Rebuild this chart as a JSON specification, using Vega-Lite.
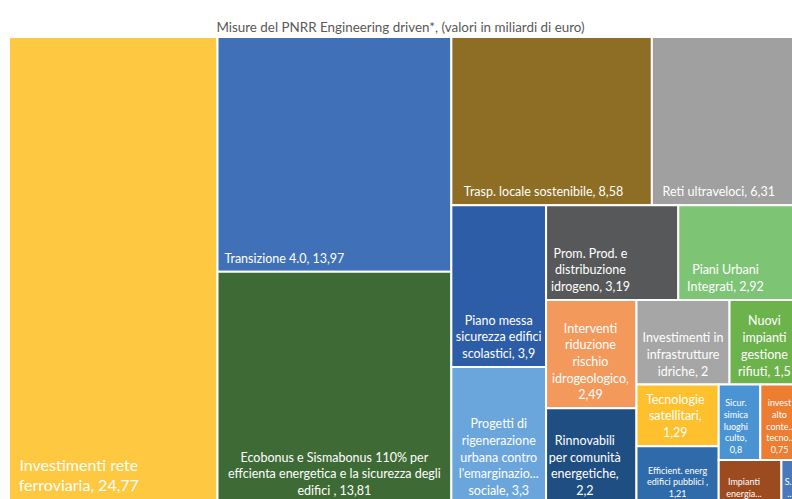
{
  "$schema": "https://vega.github.io/schema/vega-lite/v6.json",
  "width": 783,
  "height": 462,
  "autosize": "none",
  "padding": {"left": 9, "top": 37, "right": 0, "bottom": 0},
  "background": "white",
  "title": {"text": "Misure del PNRR Engineering driven*, (valori in miliardi di euro)", "font": "Lato", "fontSize": 13.4, "fontWeight": "normal", "color": "#595959", "anchor": "middle", "offset": 3},
  "config": {"view": {"stroke": null}},
  "data": {"values": [
    {"name": "Investimenti rete ferroviaria", "lines": ["Investimenti rete", "ferroviaria, 24,77"], "value": 24.77, "strip": 0},
    {"name": "Transizione 4.0", "lines": ["Transizione 4.0, 13,97"], "value": 13.97, "strip": 1},
    {"name": "Ecobonus e Sismabonus 110%", "lines": ["Ecobonus e Sismabonus 110% per", "effcienta energetica e la sicurezza degli", "edifici , 13,81"], "value": 13.81, "strip": 1},
    {"name": "Trasp. locale sostenibile", "lines": ["Trasp. locale sostenibile, 8,58"], "value": 8.58, "strip": 2},
    {"name": "Reti ultraveloci", "lines": ["Reti ultraveloci, 6,31"], "value": 6.31, "strip": 2},
    {"name": "Piano messa sicurezza edifici scolastici", "lines": ["Piano messa", "sicurezza edifici", "scolastici, 3,9"], "value": 3.9, "strip": 3},
    {"name": "Progetti di rigenerazione urbana", "lines": ["Progetti di", "rigenerazione", "urbana contro", "l'emarginazio...", "sociale, 3,3"], "value": 3.3, "strip": 3},
    {"name": "Prom. Prod. e distribuzione idrogeno", "lines": ["Prom. Prod. e", "distribuzione", "idrogeno, 3,19"], "value": 3.19, "strip": 4},
    {"name": "Piani Urbani Integrati", "lines": ["Piani Urbani", "Integrati, 2,92"], "value": 2.92, "strip": 4},
    {"name": "Interventi riduzione rischio idrogeologico", "lines": ["Interventi", "riduzione", "rischio", "idrogeologico,", "2,49"], "value": 2.49, "strip": 5},
    {"name": "Rinnovabili per comunità energetiche", "lines": ["Rinnovabili", "per comunità", "energetiche,", "2,2"], "value": 2.2, "strip": 5},
    {"name": "Investimenti in infrastrutture idriche", "lines": ["Investimenti in", "infrastrutture", "idriche, 2"], "value": 2, "strip": 6},
    {"name": "Nuovi impianti gestione rifiuti", "lines": ["Nuovi", "impianti", "gestione", "rifiuti, 1,5"], "value": 1.5, "strip": 6},
    {"name": "Tecnologie satellitari", "lines": ["Tecnologie", "satellitari,", "1,29"], "value": 1.29, "strip": 7},
    {"name": "Efficient. energ edifici pubblici", "lines": ["Efficient. energ", "edifici pubblici ,", "1,21"], "value": 1.21, "strip": 7},
    {"name": "Sicur. simica luoghi culto", "lines": ["Sicur.", "simica", "luoghi", "culto,", "0,8"], "value": 0.8, "strip": 8},
    {"name": "Invest alto conte.. tecno..", "lines": ["invest", "alto", "conte..", "tecno..", "0,75"], "value": 0.75, "strip": 8},
    {"name": "Impianti energia...", "lines": ["Impianti", "energia..."], "value": 0.7, "strip": 9},
    {"name": "S...", "lines": ["S...", "..."], "value": 0.2, "strip": 10}
  ]},
  "transform": [
    {"joinaggregate": [{"op": "sum", "field": "value", "as": "T"}]},
    {"joinaggregate": [{"op": "sum", "field": "value", "as": "S"}], "groupby": ["strip"]},
    {"window": [{"op": "sum", "field": "value", "as": "cum"}], "groupby": ["strip"], "sort": [{"field": "value", "order": "descending"}], "frame": [null, 0]},
    {"calculate": "datum.strip>=1?datum.value:0", "as": "g1"},
    {"calculate": "datum.strip>=2?datum.value:0", "as": "g2"},
    {"calculate": "datum.strip>=3?datum.value:0", "as": "g3"},
    {"calculate": "datum.strip>=4?datum.value:0", "as": "g4"},
    {"calculate": "datum.strip>=5?datum.value:0", "as": "g5"},
    {"calculate": "datum.strip>=6?datum.value:0", "as": "g6"},
    {"calculate": "datum.strip>=7?datum.value:0", "as": "g7"},
    {"calculate": "datum.strip>=8?datum.value:0", "as": "g8"},
    {"calculate": "datum.strip>=9?datum.value:0", "as": "g9"},
    {"calculate": "datum.strip>=10?datum.value:0", "as": "g10"},
    {"joinaggregate": [
      {"op": "sum", "field": "g1", "as": "R1"},
      {"op": "sum", "field": "g2", "as": "R2"},
      {"op": "sum", "field": "g3", "as": "R3"},
      {"op": "sum", "field": "g4", "as": "R4"},
      {"op": "sum", "field": "g5", "as": "R5"},
      {"op": "sum", "field": "g6", "as": "R6"},
      {"op": "sum", "field": "g7", "as": "R7"},
      {"op": "sum", "field": "g8", "as": "R8"},
      {"op": "sum", "field": "g9", "as": "R9"},
      {"op": "sum", "field": "g10", "as": "R10"}
    ]},
    {"calculate": "datum.R3/datum.R2", "as": "h3"},
    {"calculate": "datum.R4/datum.h3", "as": "w4"},
    {"calculate": "datum.R5/datum.w4", "as": "h5"},
    {"calculate": "datum.R6/datum.h5", "as": "w6"},
    {"calculate": "datum.R7/datum.w6", "as": "h7"},
    {"calculate": "datum.R8/datum.h7", "as": "w8"},
    {"calculate": "datum.R9/datum.w8", "as": "h9"},
    {"calculate": "datum.R10/datum.h9", "as": "w10"},
    {"calculate": "[1,1,1,datum.h3,datum.h3,datum.h5,datum.h5,datum.h7,datum.h7,datum.h9,datum.h9][datum.strip]", "as": "H"},
    {"calculate": "[datum.T,datum.R1,datum.R2,datum.R2,datum.w4,datum.w4,datum.w6,datum.w6,datum.w8,datum.w8,datum.w10][datum.strip]", "as": "W"},
    {"calculate": "indexof([2,4,6,8],datum.strip)<0", "as": "isCol"},
    {"calculate": "datum.T-datum.W", "as": "X"},
    {"calculate": "1-datum.H", "as": "Y"},
    {"calculate": "datum.isCol ? datum.X : datum.X + datum.W*(datum.cum-datum.value)/datum.S", "as": "x0"},
    {"calculate": "datum.isCol ? datum.X + datum.S/datum.H : datum.X + datum.W*datum.cum/datum.S", "as": "x1"},
    {"calculate": "datum.isCol ? datum.Y + datum.H*(datum.cum-datum.value)/datum.S : datum.Y", "as": "y0"},
    {"calculate": "datum.isCol ? datum.Y + datum.H*datum.cum/datum.S : datum.Y + datum.S/datum.W", "as": "y1"},
    {"calculate": "datum.value>20?16:(datum.value<1.25?9:12.5)", "as": "fs"},
    {"calculate": "datum.value>20?20:(datum.value<1.25?11.7:16.7)", "as": "lh"},
    {"calculate": "datum.value>20?10:(datum.value<1.25?5:6)", "as": "pad"},
    {"calculate": "max(length(datum.lines[0]||''),length(datum.lines[1]||''),length(datum.lines[2]||''),length(datum.lines[3]||''),length(datum.lines[4]||''))", "as": "maxLen"},
    {"calculate": "datum.x0 + (5 + min((datum.x1-datum.x0)*8.4176 - 10, datum.maxLen*0.45*datum.fs)/2)/8.4176", "as": "tx"},
    {"calculate": "datum.y1 - (datum.pad + (length(datum.lines)-1)*datum.lh)/467", "as": "ty"}
  ],
  "layer": [
    {
      "mark": {"type": "rect", "stroke": "white", "strokeWidth": 2, "clip": true},
      "encoding": {
        "x": {"field": "x0", "type": "quantitative", "scale": {"domain": [0, 93.02], "nice": false, "zero": false}, "axis": null},
        "x2": {"field": "x1"},
        "y": {"field": "y0", "type": "quantitative", "scale": {"domain": [0, 0.9893], "nice": false, "zero": false, "reverse": true}, "axis": null},
        "y2": {"field": "y1"},
        "color": {"field": "name", "type": "nominal", "legend": null, "scale": {
          "domain": ["Investimenti rete ferroviaria", "Transizione 4.0", "Ecobonus e Sismabonus 110%", "Trasp. locale sostenibile", "Reti ultraveloci", "Piano messa sicurezza edifici scolastici", "Progetti di rigenerazione urbana", "Prom. Prod. e distribuzione idrogeno", "Piani Urbani Integrati", "Interventi riduzione rischio idrogeologico", "Rinnovabili per comunità energetiche", "Investimenti in infrastrutture idriche", "Nuovi impianti gestione rifiuti", "Tecnologie satellitari", "Efficient. energ edifici pubblici", "Sicur. simica luoghi culto", "Invest alto conte.. tecno..", "Impianti energia...", "S..."],
          "range": ["#FEC840", "#4071B8", "#3E6B35", "#8D6E24", "#A0A0A0", "#2E5DA8", "#6AA6DC", "#575859", "#7DC474", "#F4995C", "#1F4E82", "#A6A6A6", "#6DB34C", "#FEC02C", "#2F6BAA", "#4B94D4", "#ED7D31", "#9C4A20", "#4A78BB"]
        }}
      }
    },
    {
      "transform": [{"filter": "datum.value > 20"}],
      "mark": {"type": "text", "align": "center", "baseline": "bottom", "font": "Lato", "fontSize": 16, "lineHeight": 20, "color": "white"},
      "encoding": {
        "x": {"field": "tx", "type": "quantitative"},
        "y": {"field": "ty", "type": "quantitative"},
        "text": {"field": "lines"}
      }
    },
    {
      "transform": [{"filter": "datum.value <= 20 && datum.value >= 1.25"}],
      "mark": {"type": "text", "align": "center", "baseline": "bottom", "font": "Lato", "fontSize": 12.5, "lineHeight": 16.7, "color": "white"},
      "encoding": {
        "x": {"field": "tx", "type": "quantitative"},
        "y": {"field": "ty", "type": "quantitative"},
        "text": {"field": "lines"}
      }
    },
    {
      "transform": [{"filter": "datum.value < 1.25"}],
      "mark": {"type": "text", "align": "center", "baseline": "bottom", "font": "Lato", "fontSize": 9, "lineHeight": 11.7, "color": "white"},
      "encoding": {
        "x": {"field": "tx", "type": "quantitative"},
        "y": {"field": "ty", "type": "quantitative"},
        "text": {"field": "lines"}
      }
    }
  ]
}
